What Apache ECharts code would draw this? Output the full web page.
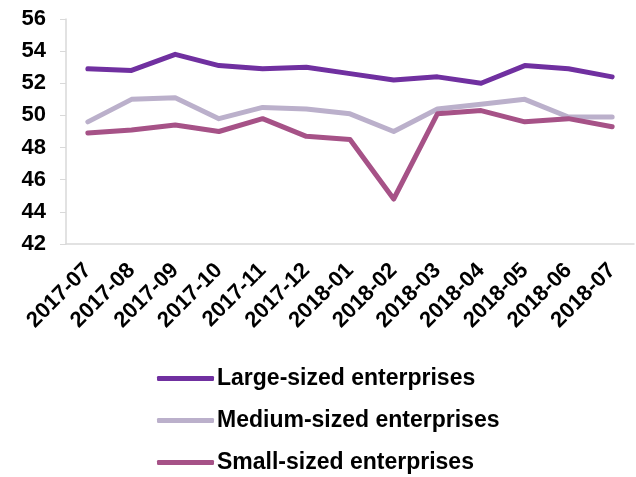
<!DOCTYPE html>
<html>
<head>
<meta charset="utf-8">
<script src="https://cdn.jsdelivr.net/npm/echarts@6/dist/echarts.min.js"></script>
<style>html,body{margin:0;padding:0;background:#fff}#c{width:636px;height:477px}</style>
</head>
<body>
<div id="c"></div>
<script>
var categories = ['2017-07','2017-08','2017-09','2017-10','2017-11','2017-12','2018-01','2018-02','2018-03','2018-04','2018-05','2018-06','2018-07'];
var large = [52.9, 52.8, 53.8, 53.1, 52.9, 53.0, 52.6, 52.2, 52.4, 52.0, 53.1, 52.9, 52.4];
var medium = [49.6, 51.0, 51.1, 49.8, 50.5, 50.4, 50.1, 49.0, 50.4, 50.7, 51.0, 49.9, 49.9];
var small = [48.9, 49.1, 49.4, 49.0, 49.8, 48.7, 48.5, 44.8, 50.1, 50.3, 49.6, 49.8, 49.3];
var seriesNames = ['Large-sized enterprises', 'Medium-sized enterprises', 'Small-sized enterprises'];
var colors = ['#7030a0', '#bbb0cb', '#a65287'];

var font = 'Liberation Sans, Arial, sans-serif';
var chart = echarts.init(document.getElementById('c'));
function mk(name, data, color) {
  return {
    name: name, type: 'line', data: data, symbol: 'none',
    lineStyle: { width: 5, color: color, cap: 'round', join: 'round' },
    itemStyle: { color: color }
  };
}
chart.setOption({
  animation: false,
  grid: { left: 66, right: 2, top: 19, bottom: 233, containLabel: false },
  legend: {
    orient: 'vertical', left: 152, top: 362, height: 120, padding: 5,
    itemWidth: 57, itemHeight: 5, itemGap: 19,
    icon: 'roundRect',
    textStyle: { fontFamily: font, fontWeight: 'bold', fontSize: 23, color: '#000', padding: [0,0,0,-2] },
    data: seriesNames
  },
  xAxis: {
    type: 'category', data: categories, boundaryGap: true,
    axisLine: { lineStyle: { color: '#d9d9d9', width: 1.5 } },
    axisTick: { show: false },
    axisLabel: { rotate: 45, interval: 0, margin: 23, fontFamily: font, fontWeight: 'bold', fontSize: 22, color: '#000' }
  },
  yAxis: {
    type: 'value', min: 42, max: 56, interval: 2,
    axisLine: { show: true, lineStyle: { color: '#d9d9d9', width: 1.5 } },
    axisTick: { show: true, length: 6, lineStyle: { color: '#d9d9d9' } },
    splitLine: { show: false },
    axisLabel: { margin: 20, fontFamily: font, fontWeight: 'bold', fontSize: 22, color: '#000' }
  },
  series: [mk(seriesNames[0], large, colors[0]), mk(seriesNames[1], medium, colors[1]), mk(seriesNames[2], small, colors[2])]
});
</script>
</body>
</html>
